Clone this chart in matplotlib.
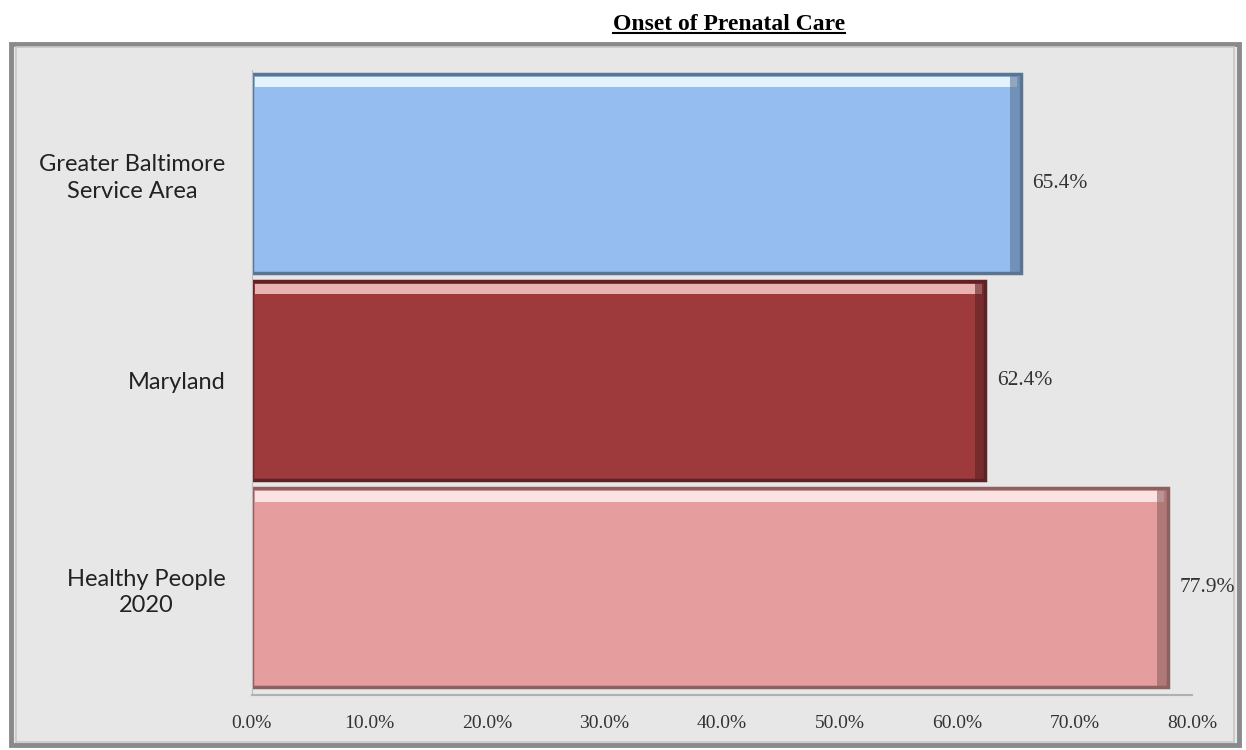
import matplotlib.pyplot as plt
from matplotlib.patches import Rectangle
from matplotlib.ticker import FuncFormatter

categories = ['Greater Baltimore\nService Area', 'Maryland', 'Healthy People\n2020']
values = [65.4, 62.4, 77.9]
bar_colors = ['#95bdef', '#9e3a3c', '#e59d9d']
edge_colors = ['#5a7594', '#5e2224', '#8f6060']
highlight_colors = ['#e4f2fb', '#e8b3b0', '#fbe2e2']

fig = plt.figure(figsize=(12.46, 7.5), dpi=100)

# chart frame
frame = Rectangle((0.009, 0.007), 0.985, 0.935, transform=fig.transFigure,
                  facecolor='#e7e7e7', edgecolor='#8a8a8a', linewidth=3.5, zorder=-2)
fig.patches.append(frame)
inner = Rectangle((0.013, 0.011), 0.977, 0.927, transform=fig.transFigure,
                  facecolor='none', edgecolor='#c8c8c8', linewidth=1.2, zorder=-1)
fig.patches.append(inner)

title = fig.text(0.585, 0.968, 'Onset of Prenatal Care', ha='center', va='center',
                 fontsize=17, fontweight='bold', family='Liberation Serif')

ax = fig.add_axes([0.202, 0.073, 0.755, 0.834])
ax.set_facecolor('none')

y = [2, 1, 0]
bh = 0.96
ax.barh(y, values, height=bh, color=bar_colors, edgecolor=edge_colors, linewidth=2.5, zorder=2)
# bevel highlight along the top of each bar
ax.barh([p + bh / 2 - 0.04 for p in y], [v - 0.6 for v in values], left=0.3, height=0.05,
        color=highlight_colors, linewidth=0, zorder=3)
# darker shade on the right side
ax.barh(y, [0.9] * 3, left=[v - 0.9 for v in values], height=bh,
        color=edge_colors, alpha=0.6, linewidth=0, zorder=3)

for yi, v in zip(y, values):
    ax.text(v + 1.0, yi - (0.05 if yi == 2 else 0), f'{v:.1f}%', va='center', ha='left',
            fontsize=15.5, family='Liberation Serif', color='#333333')

ax.set_xlim(0, 80)
ax.set_ylim(-0.5 - 0.02, 2.5)
ax.set_xticks(range(0, 81, 10))
ax.xaxis.set_major_formatter(FuncFormatter(lambda v, p: f'{v:.1f}%'))
for lab in ax.get_xticklabels():
    lab.set_family('Liberation Serif')
    lab.set_fontsize(14)
    lab.set_color('#333333')
ax.set_yticks(y)
ax.set_yticklabels(categories, fontsize=17, family='Lato', color='#222222',
                   multialignment='center', linespacing=1.35)
ax.tick_params(axis='x', length=0, pad=14)
ax.tick_params(axis='y', length=0, pad=19)

for s in ['top', 'right']:
    ax.spines[s].set_visible(False)
ax.spines['left'].set_color('#bdbdbd')
ax.spines['bottom'].set_color('#b0b0b0')
ax.spines['bottom'].set_linewidth(1.5)

# underline the title using its rendered extent
fig.canvas.draw()
bb = title.get_window_extent().transformed(fig.transFigure.inverted())
fig.add_artist(plt.Line2D([bb.x0, bb.x1], [bb.y0 + 0.002, bb.y0 + 0.002],
                          transform=fig.transFigure, color='black', linewidth=1.5))

fig.savefig('out.png', dpi=100)
